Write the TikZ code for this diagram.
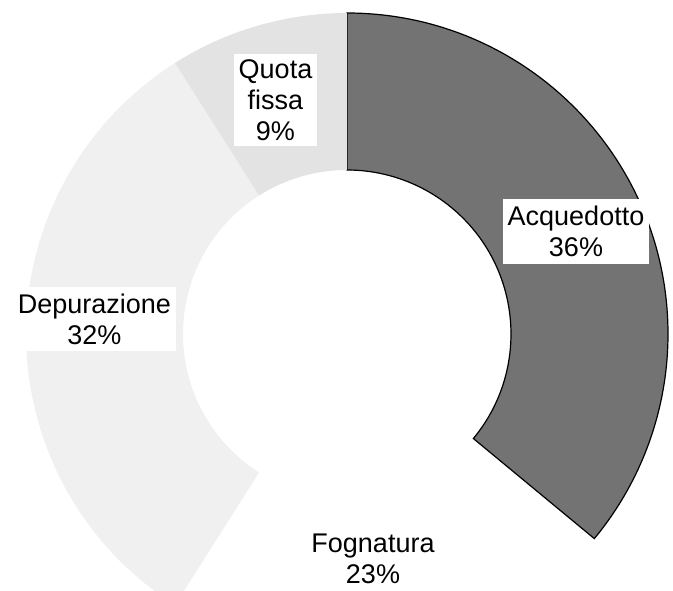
\documentclass[tikz,border=0pt]{standalone}
\usepackage{fontspec}
\setmainfont{Liberation Sans}

\tikzset{
  labelbox/.style={fill=white, align=center, inner xsep=5pt, inner ysep=7pt,
    font=\fontsize{27}{31}\selectfont},
  acqfill/.style={fill=black!55, draw=black, line width=1.2pt},
  depfill/.style={fill=black!6},
  quotafill/.style={fill=black!11}
}

\begin{document}
\begin{tikzpicture}[x=1pt,y=1pt]
		\useasboundingbox (-347,-256) rectangle (326,334);
		% slices, clockwise from the top
		\path [acqfill] (90:321) arc [start angle=90, end angle=-39.6, radius=321]
		-- (-39.6:164) arc [start angle=-39.6, end angle=90, radius=164] -- cycle;
		\path [depfill] (-122.4:321) arc [start angle=-122.4, end angle=-237.6, radius=321]
		-- (122.4:164) arc [start angle=122.4, end angle=237.6, radius=164] -- cycle;
		\path [quotafill] (122.4:321) arc [start angle=122.4, end angle=90, radius=321]
		-- (90:164) arc [start angle=90, end angle=122.4, radius=164] -- cycle;
		% labels
		\node [labelbox] (acq) at (229,102.5) {Acquedotto\\36\%};
		\node [labelbox, inner sep=5pt] (quota) at (-71.5,234) {Quota\\fissa\\9\%};
		\node [labelbox] (dep) at (-252.5,15) {Depurazione\\32\%};
		\node [labelbox] (fogn) at (26,-225) {Fognatura\\23\%};
\end{tikzpicture}
\end{document}
